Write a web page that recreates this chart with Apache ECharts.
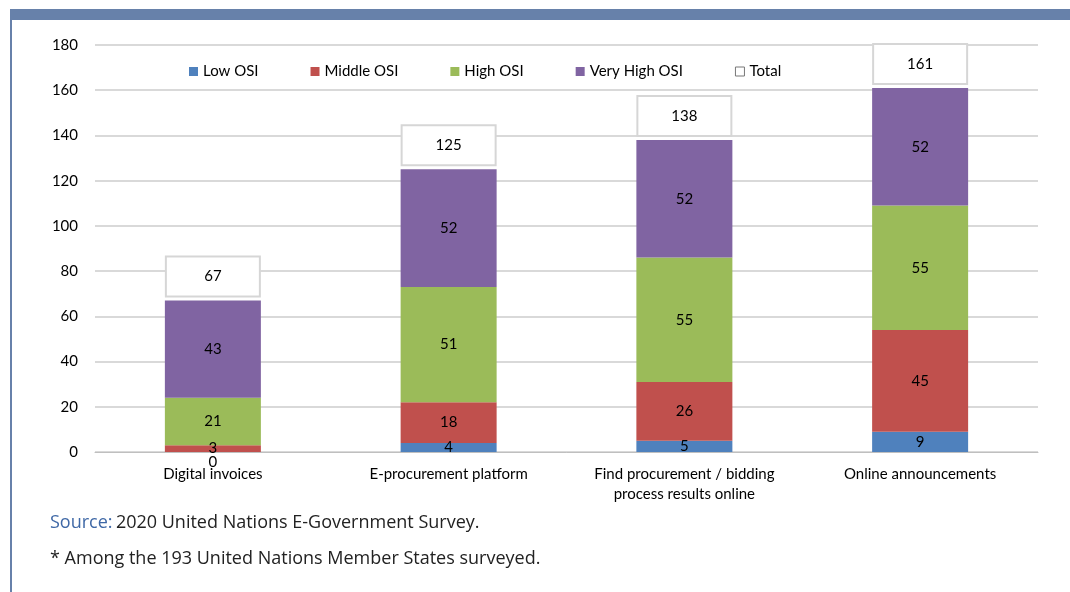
<!DOCTYPE html>
<html>
<head>
<meta charset="utf-8">
<script src="https://cdn.jsdelivr.net/npm/echarts@6/dist/echarts.min.js"></script>
<style>
  html, body { margin: 0; padding: 0; background: #fff; }
  #chart { width: 1070px; height: 592px; }
</style>
</head>
<body>
<div id="chart"></div>
<script>
// data
const categories = ['Digital invoices', 'E-procurement platform', 'Find procurement / bidding\nprocess results online', 'Online announcements']
const lowOSI = [0, 4, 5, 9]
const middleOSI = [3, 18, 26, 45]
const highOSI = [21, 51, 55, 55]
const veryHighOSI = [43, 52, 52, 52]
const totals = [67, 125, 138, 161]
const yTicks = { min: 0, max: 180, interval: 20 }

const colors = ['#4f81bd', '#c0504d', '#9bbb59', '#8064a2']
const font = 'Lato, "Liberation Sans", sans-serif'
const noteFont = '"Open Sans", sans-serif'

const chart = echarts.init(document.getElementById('chart'))

function stackSeries(name, values, color) {
  return {
    name: name,
    type: 'bar',
    stack: 'osi',
    barWidth: 96,
    barGap: '-100%',
    itemStyle: { color: color },
    label: {
      show: true,
      position: 'inside',
      color: '#000',
      fontSize: 15,
      fontFamily: font
    },
    // a zero bar gets its label pushed under the axis, like the original
    data: values.map(v => v === 0 ? { value: v, label: { offset: [0, 10] } } : v)
  }
}

chart.setOption({
  animation: false,
  backgroundColor: '#fff',
  graphic: [
    { type: 'rect', shape: { x: 10, y: 9, width: 1060, height: 11 }, style: { fill: '#6781aa' } },
    { type: 'rect', shape: { x: 10, y: 9, width: 2, height: 583 }, style: { fill: '#6781aa' } },
    {
      type: 'text', left: 50, top: 514,
      style: {
        text: '{a|Source:} {b|2020 United Nations E-Government Survey.}',
        rich: {
          a: { fill: '#3f68a6', fontSize: 18, fontFamily: noteFont },
          b: { fill: '#222', fontSize: 18, fontFamily: noteFont }
        }
      }
    },
    {
      type: 'text', left: 50, top: 550,
      style: {
        text: '* Among the 193 United Nations Member States surveyed.',
        fill: '#222', fontSize: 18, fontFamily: noteFont
      }
    }
  ],
  legend: {
    left: 184,
    top: 59,
    itemWidth: 9,
    itemHeight: 9,
    itemGap: 52,
    textStyle: { fontSize: 15, color: '#000', fontFamily: font },
    data: [
      { name: 'Low OSI', icon: 'rect' },
      { name: 'Middle OSI', icon: 'rect' },
      { name: 'High OSI', icon: 'rect' },
      { name: 'Very High OSI', icon: 'rect' },
      { name: 'Total', icon: 'rect', itemStyle: { color: '#fff', borderColor: '#777', borderWidth: 1 } }
    ]
  },
  grid: { left: 95, right: 32, top: 45, bottom: 140 },
  xAxis: {
    type: 'category',
    data: categories,
    axisTick: { show: false },
    axisLine: { lineStyle: { color: '#bfbfbf', width: 1 } },
    axisLabel: { color: '#000', fontSize: 15, fontFamily: font, margin: 12, lineHeight: 20 }
  },
  yAxis: {
    type: 'value',
    min: yTicks.min,
    max: yTicks.max,
    interval: yTicks.interval,
    axisLine: { show: false },
    axisTick: { show: false },
    axisLabel: { color: '#000', fontSize: 15, fontFamily: font, margin: 17 },
    splitLine: { lineStyle: { color: '#d9d9d9', width: 2 } }
  },
  series: [
    stackSeries('Low OSI', lowOSI, colors[0]),
    stackSeries('Middle OSI', middleOSI, colors[1]),
    stackSeries('High OSI', highOSI, colors[2]),
    stackSeries('Very High OSI', veryHighOSI, colors[3]),
    {
      name: 'Total',
      type: 'bar',
      barWidth: 96,
      barGap: '-100%',
      itemStyle: { color: 'rgba(0,0,0,0)' },
      label: {
        show: true,
        position: 'top',
        distance: 5,
        color: '#000',
        fontSize: 15,
        fontFamily: font,
        backgroundColor: '#fff',
        borderColor: '#d6d6d6',
        borderWidth: 2,
        width: 92,
        height: 38,
        lineHeight: 38,
        align: 'center'
      },
      z: 5,
      data: totals
    }
  ]
})
</script>
</body>
</html>
